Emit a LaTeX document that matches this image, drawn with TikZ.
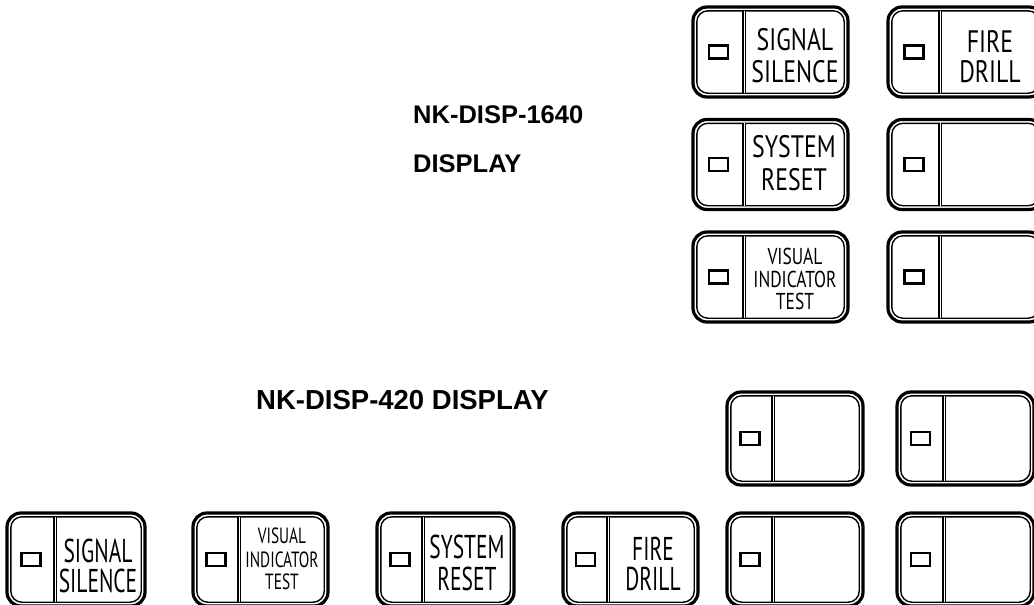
\documentclass[tikz,border=0pt]{standalone}
\usepackage{fontspec}
\newfontfamily\ttlfont{Liberation Sans}
\newfontfamily\fA[FakeStretch=0.77]{PT Sans}
\newfontfamily\fB[FakeStretch=0.65]{PT Sans}
\newfontfamily\fC[FakeStretch=0.76]{PT Sans}
\newfontfamily\fD[FakeStretch=0.7]{PT Sans}
\tikzset{
  outerb/.style={line width=3.2pt, rounded corners=14pt},
  innerb/.style={line width=1.4pt, rounded corners=11pt},
  divider/.style={line width=1.6pt, double=white, double distance=1pt},
  led/.style={line width=2.2pt},
  lblA/.style={anchor=base, inner sep=0pt, font=\fA\fontsize{31}{31}\selectfont},
  lblB/.style={anchor=base, inner sep=0pt, font=\fB\fontsize{33}{33}\selectfont},
  lblC/.style={anchor=base, inner sep=0pt, font=\fC\fontsize{23}{23}\selectfont},
  lblD/.style={anchor=base, inner sep=0pt, font=\fD\fontsize{22}{22}\selectfont},
  title/.style={anchor=base west, inner sep=0pt, font=\ttlfont\bfseries\fontsize{25.5}{25.5}\selectfont},
}
% #1 name, #2 x, #3 y, #4 w, #5 h, #6 divider offset
\newcommand\btnbox[6]{%
  \coordinate (#1-nw) at (#2,#3);
  \coordinate (#1-se) at ({#2+#4},{#3+#5});
  \draw[outerb] (#1-nw) rectangle (#1-se);
  \draw[innerb] ({#2+3.8},{#3+3.8}) rectangle ({#2+#4-3.8},{#3+#5-3.8});
  \coordinate (#1-dt) at ({#2+#6},{#3+3.8});
  \coordinate (#1-db) at ({#2+#6},{#3+#5-3.8});
  \draw[divider] (#1-dt) -- (#1-db);
  \node[draw, led, minimum width=19pt, minimum height=13pt, inner sep=0pt] (#1-led) at ({#2+#6/2},{#3+#5/2}) {};
}
\begin{document}
\begin{tikzpicture}[x=1pt,y=-1pt]
\useasboundingbox (0,0) rectangle (1034,605);
\clip (0,0) rectangle (1034,605);

% titles
\node[title] (t1640a) at (413,123) {NK-DISP-1640};
\node[title] (t1640b) at (413,172) {DISPLAY};
\node[title, font=\ttlfont\bfseries\fontsize{27.5}{27.5}\selectfont] (t420) at (256,409) {NK-DISP-420 DISPLAY};

% NK-DISP-1640 buttons
\btnbox{a1}{693}{7}{155}{90}{51}
\btnbox{a2}{693}{119.5}{155}{90}{51}
\btnbox{a3}{693}{232}{155}{90}{51}
\btnbox{b1}{888}{7}{155}{90}{52}
\btnbox{b2}{888}{119.5}{155}{90}{52}
\btnbox{b3}{888}{232}{155}{90}{52}

\node[lblA] (a1l1) at (795,50) {SIGNAL};
\node[lblA] (a1l2) at (795,82) {SILENCE};
\node[lblA] (a2l1) at (794,157) {SYSTEM};
\node[lblA] (a2l2) at (794,190) {RESET};
\node[lblC] (a3l1) at (795,264) {VISUAL};
\node[lblC] (a3l2) at (795,287) {INDICATOR};
\node[lblC] (a3l3) at (795,309) {TEST};
\node[lblA] (b1l1) at (990,52) {FIRE};
\node[lblA] (b1l2) at (990,82) {DRILL};

% NK-DISP-420 buttons
\btnbox{c1}{727}{392}{136}{93}{46}
\btnbox{c2}{897}{392}{137}{93}{47}
\btnbox{d1}{7}{513}{138}{93}{48}
\btnbox{d2}{193}{513}{135}{93}{46}
\btnbox{d3}{377}{513}{137}{93}{46}
\btnbox{d4}{563}{513}{135}{93}{45}
\btnbox{d5}{727}{513}{136}{93}{46}
\btnbox{d6}{897}{513}{137}{93}{47}

\node[lblB] (d1l1) at (98,562) {SIGNAL};
\node[lblB] (d1l2) at (98,592) {SILENCE};
\node[lblD] (d2l1) at (282,543) {VISUAL};
\node[lblD] (d2l2) at (282,567) {INDICATOR};
\node[lblD] (d2l3) at (282,589) {TEST};
\node[lblB] (d3l1) at (467,558) {SYSTEM};
\node[lblB] (d3l2) at (467,590) {RESET};
\node[lblB] (d4l1) at (653,560) {FIRE};
\node[lblB] (d4l2) at (653,590) {DRILL};
\end{tikzpicture}
\end{document}
